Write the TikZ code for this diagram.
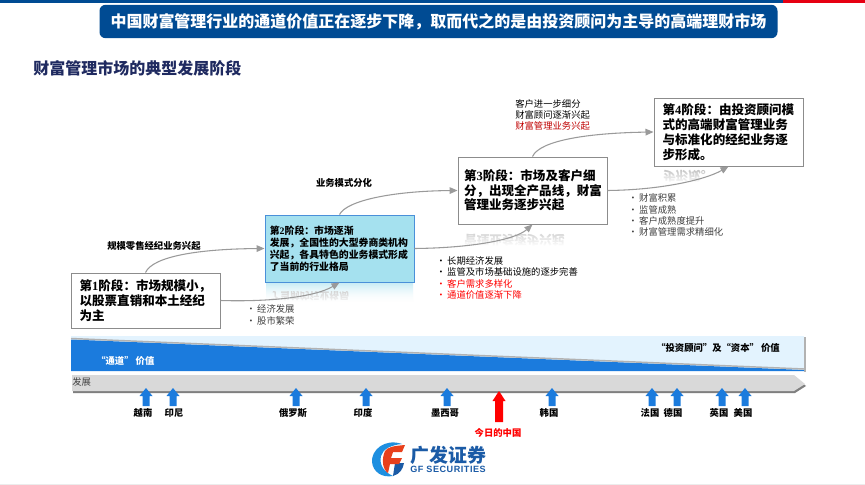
\documentclass[tikz,border=0pt]{standalone}
\usepackage{fontspec}
\setmainfont{Noto Sans CJK SC}
\newfontfamily\serdigit{Liberation Serif}[BoldFont={Liberation Serif Bold}]
\newfontfamily\latinsans{Liberation Sans}[BoldFont={Liberation Sans Bold},LetterSpace=6]
\usetikzlibrary{arrows.meta,fadings}
\definecolor{navy}{HTML}{004B93}
\definecolor{topred}{HTML}{E60012}
\definecolor{subnavy}{HTML}{1F2A60}
\definecolor{boxline}{HTML}{8C8C8C}
\definecolor{cyanfill}{HTML}{A5E1EF}
\definecolor{cyanline}{HTML}{4A90D9}
\definecolor{flow}{HTML}{9A9A9A}
\definecolor{vblue}{HTML}{1B7BDD}
\definecolor{vlight}{HTML}{E3F3FE}
\definecolor{band}{HTML}{D9D9D9}
\definecolor{bandshadow}{HTML}{7F7F7F}
\definecolor{softtext}{HTML}{404040}
\definecolor{logoblue}{HTML}{1B5BA6}
\definecolor{logocyan}{HTML}{1E8FE0}
\definecolor{logored}{HTML}{E8401C}
\tikzset{
  x=0.75pt,y=-0.75pt,
  stagebox/.style={draw=boxline,line width=0.7pt,fill=white,align=left,anchor=center,
    inner xsep=6.5pt,inner ysep=0pt,minimum height=50pt,text width=98.8pt,
    font=\fontsize{9.4pt}{11.1pt}\selectfont\bfseries,text=black},
  flowline/.style={draw=flow,line width=0.8pt,-{Triangle[length=6pt,width=5pt]}},
  lbl/.style={font=\fontsize{7pt}{8.6pt}\selectfont,inner sep=0pt,align=left,text=black},
  bul/.style={lbl,anchor=west},
  country/.style={font=\fontsize{7pt}{8pt}\selectfont\bfseries,inner sep=0pt,text=black},
  uparrow/.style={fill=vblue,draw=none},
  mirror/.style={font=\fontsize{#1}{#1}\selectfont\bfseries,text=gray!55,inner sep=0pt,yscale=-1,transform shape,anchor=west},
}
\newcommand{\uparr}[2]{\fill[#2] (#1-3.5,406) -- (#1-3.5,396) -- (#1-6.5,396) -- (#1,388) -- (#1+6.5,396) -- (#1+3.5,396) -- (#1+3.5,406) -- cycle;}
\newcommand{\bdot}{\raisebox{0.2pt}{\textbullet}\kern 1.2pt}
\begin{document}
\begin{tikzpicture}
\useasboundingbox (0,0) rectangle (865,485);
\fill[white] (0,0) rectangle (865,485);
% header
\fill[navy] (0,0) rectangle (783,3);
\fill[topred] (783,0) rectangle (865,3);
\node[fill=navy,rounded corners=4.5pt,minimum width=508.5pt,minimum height=25pt,inner sep=0pt,
  text=white,font=\fontsize{12pt}{14pt}\selectfont\bfseries] (title) at (438.5,21.5)
  {中国财富管理行业的通道价值正在逐步下降，取而代之的是由投资顾问为主导的高端理财市场};
\node[anchor=west,inner sep=0pt,text=subnavy,font=\fontsize{12pt}{14pt}\selectfont\bfseries] (sub) at (33,68) {财富管理市场的典型发展阶段};
% footer strip
\fill[gray!15] (0,483.5) rectangle (865,485);
% reflections
\fill[top color=cyanfill!60,bottom color=white,draw=none] (266,283) rectangle (413,302);
\node[mirror=7.4pt] (r2) at (270,296) {了当前的行业格局};
\node[mirror=9.4pt] (r3) at (464,240) {管理业务逐步兴起};
\node[mirror=9.4pt] (r4) at (663,176) {步形成。};
\fill[white,path fading=north] (265,283) rectangle (414,304);
\fill[white,path fading=north] (459,225) rectangle (606,246);
\fill[white,path fading=north] (655,167) rectangle (802,183);
% stage boxes
\node[stagebox,minimum width=111.75pt,minimum height=41.25pt] (b1) at (145.5,300.5)
  {第{\serdigit 1}阶段：市场规模小，\\以股票直销和本土经纪\\为主};
\node[stagebox,draw=cyanline,fill=cyanfill,minimum width=111.75pt,minimum height=50.25pt,inner xsep=3.6pt,text width=104.5pt,
  font=\fontsize{7.4pt}{9pt}\selectfont\bfseries] (b2) at (339.5,248.5)
  {第{\serdigit 2}阶段：市场逐渐\\发展，全国性的大型券商类机构\\兴起，各具特色的业务模式形成\\了当前的行业格局};
\node[stagebox,minimum width=111.75pt,minimum height=50.25pt,inner xsep=4.5pt,text width=102.7pt,font=\fontsize{9.4pt}{11pt}\selectfont\bfseries] (b3) at (532.5,190.5)
  {第{\serdigit 3}阶段：市场及客户细\\分，出现全产品线，财富\\管理业务逐步兴起};
\node[stagebox,minimum width=111.75pt,minimum height=51pt,font=\fontsize{9.4pt}{11.2pt}\selectfont\bfseries] (b4) at (728.5,132)
  {第{\serdigit 4}阶段：由投资顾问模\\式的高端财富管理业务\\与标准化的经纪业务逐\\步形成。};
% connectors
\draw[flowline] (b1.north) .. controls (153,256) and (200,249) .. (b2.west);
\draw[flowline] (b1.east) .. controls (270,302) and (315,297) .. (b2.south);
\draw[flowline] (b2.north) .. controls (347,200) and (395,191) .. (b3.west);
\draw[flowline] (b2.east) .. controls (470,248) and (515,240) .. (b3.south);
\draw[flowline] (b3.north) .. controls (540,140) and (590,133) .. (b4.west);
\draw[flowline] (b3.east) .. controls (660,190) and (705,180) .. (b4.south);
% connector labels
\node[lbl,font=\fontsize{7pt}{8.6pt}\selectfont\bfseries,anchor=west] (l1) at (107,246) {规模零售经纪业务兴起};
\node[lbl,font=\fontsize{7pt}{8.6pt}\selectfont\bfseries] (l2) at (344,183) {业务模式分化};
\node[lbl,anchor=west] (l3) at (515,104) {客户进一步细分};
\node[lbl,anchor=west] (l4) at (515,114.5) {财富顾问逐渐兴起};
\node[lbl,anchor=west,text=red!75!black] (l5) at (515,126) {财富管理业务兴起};
% bullets
\node[bul,text=softtext] (a1) at (246,309) {\bdot 经济发展};
\node[bul,text=softtext] (a2) at (246,321) {\bdot 股市繁荣};
\node[bul] (c1) at (436,261) {\bdot 长期经济发展};
\node[bul] (c2) at (436,272) {\bdot 监管及市场基础设施的逐步完善};
\node[bul,text=red] (c3) at (436,284) {\bdot 客户需求多样化};
\node[bul,text=red] (c4) at (436,295) {\bdot 通道价值逐渐下降};
\node[bul,text=softtext] (d1) at (628,198) {\bdot 财富积累};
\node[bul,text=softtext] (d2) at (628,210) {\bdot 监管成熟};
\node[bul,text=softtext] (d3) at (628,221) {\bdot 客户成熟度提升};
\node[bul,text=softtext] (d4) at (628,232) {\bdot 财富管理需求精细化};
% value panel
\fill[gray!60] (804,337) rectangle (806,372);
\fill[vlight] (71,336) rectangle (804,370.5);
\fill[vblue] (71,339.5) -- (804,370) -- (804,371) -- (71,371) -- cycle;
\draw[gray!60,line width=1.1pt] (71,338.5) -- (804,369);
\node[lbl,anchor=east,font=\fontsize{7pt}{8.6pt}\selectfont\bfseries] (v2) at (780,348) {“投资顾问”及“资本” 价值};
\node[lbl,anchor=west,text=white,font=\fontsize{7pt}{8.6pt}\selectfont\bfseries] (v1) at (96,361) {“通道” 价值};
% development band
\fill[bandshadow] (73,377) -- (795,377) -- (806,386) -- (795,393) -- (73,393) -- cycle;
\fill[band] (72,375) -- (794,375) -- (805,384) -- (794,391) -- (72,391) -- cycle;
\node[lbl,anchor=west,text=softtext] (dev) at (72,382) {发展};
% country arrows
\uparr{146}{uparrow}\uparr{173}{uparrow}\uparr{296}{uparrow}\uparr{366}{uparrow}\uparr{447}{uparrow}
\uparr{552}{uparrow}\uparr{652}{uparrow}\uparr{677}{uparrow}\uparr{722}{uparrow}\uparr{745}{uparrow}
\fill[red] (495,422) -- (495,401) -- (492.5,401) -- (499,391) -- (505.5,401) -- (503,401) -- (503,422) -- cycle;
\node[country] (n1) at (143,413) {越南};
\node[country] (n2) at (174,413) {印尼};
\node[country] (n3) at (293,413) {俄罗斯};
\node[country] (n4) at (363,413) {印度};
\node[country] (n5) at (445,413) {墨西哥};
\node[country] (n6) at (549,413) {韩国};
\node[country] (n7) at (650,413) {法国};
\node[country] (n8) at (673,413) {德国};
\node[country] (n9) at (719,413) {英国};
\node[country] (n10) at (743,413) {美国};
\node[country,text=red] (n11) at (498,433) {今日的中国};
% logo
\fill[logocyan] (402,444) .. controls (385,438) and (371,450) .. (372,462)
  .. controls (373,472) and (382,478) .. (393,476) .. controls (384,472) and (379,465) .. (381,456)
  .. controls (383,449) and (391,445) .. (402,444) -- cycle;
\fill[logoblue] (393,476) .. controls (400,474) and (403,469) .. (404,463) -- (395,463) -- (393,476) -- cycle;
\fill[logored] (385,451) .. controls (388,447) and (393,446) .. (405,445) -- (402,452) -- (393,452) -- (391,458) -- (402,458) -- (399,464) -- (390,464) -- (388,473) .. controls (383,470) and (381,460) .. (385,451) -- cycle;
\node[inner sep=0pt,anchor=west,text=logoblue,font=\fontsize{14.2pt}{15pt}\selectfont\bfseries] (lg1) at (410,455) {广发证券};
\node[inner sep=0pt,anchor=west,text=logoblue,font=\latinsans\fontsize{6.8pt}{7pt}\selectfont\bfseries] (lg2) at (410,469) {GF SECURITIES};
\end{tikzpicture}
\end{document}
